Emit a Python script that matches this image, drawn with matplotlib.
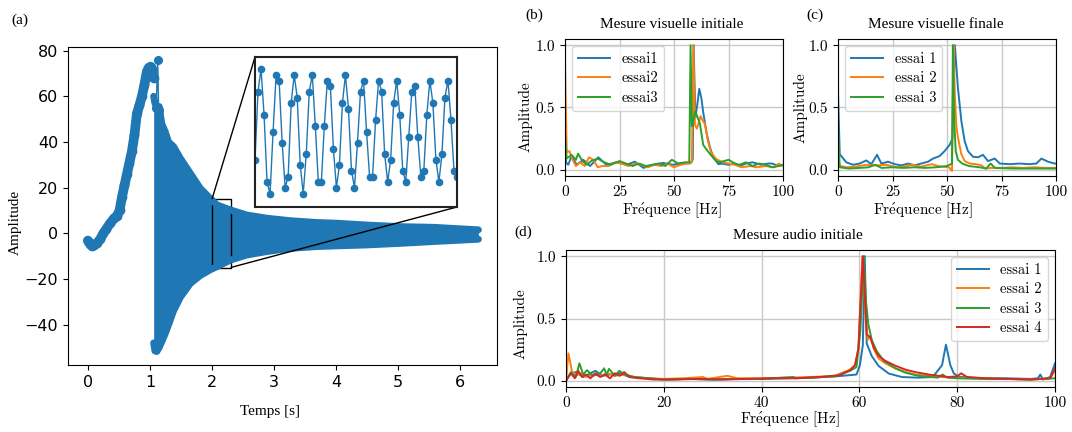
import numpy as np
import matplotlib
matplotlib.use("Agg")
import matplotlib.pyplot as plt
from mpl_toolkits.axes_grid1.inset_locator import mark_inset

plt.rcParams['mathtext.fontset'] = 'cm'

W, H = 1072, 432

# ---- (a) time signal ----
pre_t = [0, 0.03, 0.06, 0.1, 0.145, 0.2, 0.25, 0.3, 0.36, 0.42, 0.47, 0.51, 0.55,
         0.59, 0.63, 0.67, 0.71, 0.75, 0.79, 0.83, 0.87, 0.91, 0.95, 0.98, 1.01, 1.04, 1.06]
pre_v = [-3.2, -4.5, -5.5, -5.0, -4.4, -2.5, 0, 2, 4.4, 6.5, 7.6, 10, 16,
         21, 26, 31, 36, 43, 52.5, 56, 60, 65, 70.8, 72.5, 73, 71.5, 68]

env_t = [1.06, 1.08, 1.11, 1.15, 1.19, 1.245, 1.3, 1.38, 1.49, 1.65, 1.81, 1.97, 2.08,
         2.30, 2.56, 2.88, 3.26, 3.69, 4.01, 4.49, 5.03, 5.57, 6.29]
env_hi = [60, 57, 55, 55.5, 48, 44.5, 40, 38, 32.8, 26.3, 19.7, 15.3, 12.4,
          10.2, 8.0, 6.6, 5.5, 4.7, 4.4, 3.6, 2.9, 2.6, 1.5]
env_lo = [-48, -51.5, -51.8, -50, -47.5, -44, -40, -34, -28, -22, -18.5, -16, -14.6,
          -11.7, -9.5, -8.0, -6.6, -5.8, -5.5, -5.1, -4.4, -3.6, -2.6]

spike_t = [1.10, 1.125, 1.14]
spike_v = [55, 75.7, 54]

# zoomed window 2.0 - 2.3 s
zoom_v = [-5.5, 8.1, 12.6, 3.5, -10.0, -12.3, 0.1, 11.4, 10.3, -2.1, -11.1, -8.9, 5.8,
          11.4, 6.9, -6.6, -12.3, -4.4, 8.1, 11.4, 1.3, -10.0, -10.0, 1.3, 10.3, 9.2,
          -3.3, -11.1, -6.6, 5.8, 11.4, 4.7, -7.7, -11.1, -2.1, 8.1, 10.3, 0.1, -8.9,
          -8.9, 2.4, 10.3, 8.1, -4.4, -10.0, -5.5, 5.8, 10.3, 3.5, -7.7, -10.0, -1.0,
          8.1, 9.2, -1.0, -8.9, -7.7, 3.5, 10.3, 5.8, -5.5, -10.0, -4.4, 6.9, 10.3,
          2.4, -7.7, -8.9]
zoom_t = np.linspace(2.0, 2.3, len(zoom_v))

# ---- (b) Mesure visuelle initiale ----
fb1 = [0, 0.5, 1.5, 3, 5.4, 8.4, 11.5, 15.3, 19, 23.7, 28.3, 32, 36, 40.5, 45, 49.7, 54.3,
       57.3, 58.6, 59.0, 59.8, 60.5, 61.6, 62.5, 63.5, 65, 66.5, 68, 70.4, 72, 75, 78, 80,
       83, 86, 90, 93, 95, 98, 100]
ab1 = [0.2, 0.06, 0.04, 0.11, 0.04, 0.08, 0.03, 0.1, 0.04, 0.06, 0.04, 0.065, 0.015, 0.04,
       0.055, 0.04, 0.055, 0.05, 0.08, 1.0, 0.42, 0.5, 0.65, 0.58, 0.45, 0.29, 0.18, 0.1,
       0.045, 0.05, 0.04, 0.05, 0.03, 0.05, 0.06, 0.04, 0.05, 0.05, 0.03, 0.04]
fb2 = [0, 0.8, 2, 3.5, 5, 7, 9, 11, 13, 15, 17, 20, 23, 26, 29, 32, 35, 38, 41, 44, 47, 50,
       53, 56, 58.2, 58.9, 59.6, 60.5, 62.2, 63, 64.1, 65.6, 67, 69.4, 72.4, 75, 78, 81, 85,
       88, 92, 96, 98, 100]
ab2 = [0.86, 0.14, 0.15, 0.08, 0.03, 0.06, 0.03, 0.1, 0.08, 0.02, 0.03, 0.03, 0.06, 0.05,
       0.03, 0.05, 0.04, 0.02, 0.04, 0.03, 0.05, 0.02, 0.04, 0.05, 0.06, 1.0, 0.36, 0.33,
       0.43, 0.4, 0.37, 0.23, 0.14, 0.085, 0.06, 0.05, 0.04, 0.02, 0.03, 0.02, 0.03, 0.02,
       0.05, 0.03]
fb3 = [0, 0.8, 3, 5, 6, 8, 10, 12, 15, 18, 21, 25, 28, 31, 34, 37, 40, 43, 46, 49, 52, 55,
       57, 57.6, 58.2, 59.8, 61.9, 63.4, 65, 67.3, 69.4, 71, 73, 75, 78, 80, 83, 86, 89, 92,
       95, 98, 100]
ab3 = [0.3, 0.09, 0.12, 0.08, 0.13, 0.07, 0.04, 0.07, 0.09, 0.06, 0.04, 0.07, 0.05, 0.03,
       0.05, 0.03, 0.04, 0.05, 0.03, 0.08, 0.05, 0.06, 0.06, 1.0, 0.35, 0.47, 0.37, 0.2,
       0.16, 0.11, 0.07, 0.06, 0.07, 0.08, 0.05, 0.04, 0.06, 0.03, 0.05, 0.04, 0.02, 0.03,
       0.04]

# ---- (c) Mesure visuelle finale ----
fc1 = [0, 0.8, 3.8, 6.9, 9.9, 13, 15.3, 17.9, 19.9, 23, 26, 29.1, 32.1, 35.2, 38.2, 41.3,
       43.6, 46.6, 48.9, 51.2, 52.5, 53.0, 53.6, 55.0, 56.6, 58.1, 59.6, 61.9, 64.2, 66.5,
       68.8, 71.9, 74.2, 78.8, 83.3, 87.9, 91, 93.3, 96.3, 99.4, 100]
ac1 = [0.62, 0.125, 0.06, 0.04, 0.05, 0.075, 0.045, 0.12, 0.05, 0.065, 0.045, 0.035, 0.05,
       0.035, 0.05, 0.065, 0.09, 0.11, 0.15, 0.2, 0.25, 0.6, 1.0, 0.66, 0.39, 0.23, 0.15,
       0.105, 0.1, 0.12, 0.07, 0.09, 0.05, 0.045, 0.05, 0.045, 0.05, 0.09, 0.065, 0.05, 0.05]
fc2 = [0, 0.8, 4, 8, 13, 17, 22, 27, 30, 34, 38, 43, 46, 48, 51, 52.3, 53.0, 53.6, 54.3,
       55.0, 56.6, 58.1, 60.4, 63.5, 65.8, 67.7, 70, 75, 80, 85, 90, 95, 100]
ac2 = [0.1, 0.03, 0.02, 0.025, 0.04, 0.035, 0.04, 0.02, 0.025, 0.04, 0.025, 0.045, 0.03,
       0.025, 0.02, -0.01, 1.0, 0.6, 0.35, 0.26, 0.125, 0.07, 0.05, 0.045, 0.035, 0.01,
       0.015, 0.015, 0.02, 0.015, 0.02, 0.015, 0.015]
fc3 = [0, 0.8, 5, 10, 14, 17, 20, 25, 30, 35, 40, 45, 50, 52.3, 52.7, 53.3, 54.0, 55, 57,
       60, 65, 68, 70, 72, 80, 90, 100]
ac3 = [0.3, 0.02, 0.01, 0.015, 0.02, 0.04, 0.015, 0.02, 0.015, 0.02, 0.015, 0.02, 0.03,
       0.05, 1.0, 0.4, 0.15, 0.08, 0.05, 0.03, 0.02, 0.01, 0.05, 0.015, 0.01, 0.01, 0.01]

# ---- (d) Mesure audio initiale ----
fd1 = [0, 0.8, 2, 3.5, 5, 6, 7.5, 9, 11, 13, 15, 17, 20, 25, 30, 35, 40, 45, 50, 55, 58,
       59.4, 60.1, 60.7, 61.1, 61.5, 62.5, 63.9, 66, 68.7, 72, 75, 76.9, 77.7, 78.6, 79.3,
       80.3, 85, 90, 95, 96.5, 97, 97.5, 99, 100]
ad1 = [0.0, 0.05, 0.07, 0.03, 0.06, 0.08, 0.04, 0.05, 0.06, 0.03, 0.025, 0.02, 0.01, 0.015,
       0.01, 0.015, 0.015, 0.02, 0.025, 0.035, 0.045, 0.05, 0.125, 0.285, 1.0, 0.3, 0.2,
       0.12, 0.058, 0.03, 0.025, 0.03, 0.125, 0.29, 0.125, 0.06, 0.032, 0.02, 0.02, 0.015,
       0.02, 0.05, 0.01, 0.03, 0.14]
fd2 = [0, 0.5, 1.2, 2, 3, 4, 5.5, 7, 8.5, 10, 12, 14, 17, 20, 24, 28, 29, 33, 35, 40, 45,
       50, 55, 58.1, 59.1, 59.8, 60.1, 60.6, 61.3, 61.7, 62.3, 62.9, 63.9, 65.3, 67.4, 69.4,
       71.4, 74.2, 77, 80, 85, 90, 95, 99, 100]
ad2 = [0.0, 0.22, 0.08, 0.04, 0.06, 0.03, 0.05, 0.04, 0.06, 0.04, 0.05, 0.03, 0.02, 0.015,
       0.02, 0.03, 0.015, 0.04, 0.02, 0.02, 0.025, 0.03, 0.04, 0.09, 0.125, 0.26, 0.52, 1.0,
       0.5, 0.33, 0.36, 0.26, 0.18, 0.14, 0.098, 0.072, 0.05, 0.04, 0.03, 0.025, 0.02,
       0.015, 0.01, 0.02, 0.08]
fd3 = [0, 1, 2, 2.75, 3.5, 4.3, 5.5, 7, 7.8, 8.3, 8.8, 10, 10.9, 12, 14, 17, 20, 25, 30,
       35, 40, 46.5, 47, 50, 55, 58.1, 59.4, 60.2, 60.9, 61.3, 61.8, 62.5, 63.5, 65, 67.4,
       69.4, 72, 76, 77, 78, 80, 85, 90, 95, 100]
ad3 = [0.0, 0.07, 0.03, 0.14, 0.05, 0.085, 0.04, 0.06, 0.1, 0.05, 0.095, 0.04, 0.08, 0.05,
       0.03, 0.02, 0.01, 0.015, 0.01, 0.015, 0.015, 0.03, 0.02, 0.025, 0.035, 0.08, 0.11,
       0.4, 1.0, 0.66, 0.46, 0.33, 0.24, 0.16, 0.1, 0.065, 0.04, 0.025, 0.05, 0.025, 0.02,
       0.015, 0.015, 0.01, 0.02]
fd4 = [0, 1, 1.8, 2.5, 3.3, 4, 5, 6, 7, 8, 9, 10, 11, 11.9, 13, 15, 18, 22, 27, 32, 37, 42,
       47, 52, 56, 58.1, 59.1, 59.8, 60.1, 60.7, 61.5, 62.2, 62.9, 63.9, 65.3, 67.4, 69.4,
       71.4, 74.2, 76.2, 78, 80, 80.8, 82, 86, 90, 95, 99, 100]
ad4 = [0.0, 0.06, 0.02, 0.08, 0.03, 0.05, 0.02, 0.06, 0.03, 0.05, 0.02, 0.06, 0.04, 0.07,
       0.03, 0.02, 0.01, 0.01, 0.015, 0.01, 0.015, 0.02, 0.02, 0.03, 0.045, 0.085, 0.125,
       0.26, 0.52, 1.0, 0.37, 0.35, 0.27, 0.2, 0.16, 0.12, 0.09, 0.07, 0.05, 0.04, 0.03,
       0.035, 0.06, 0.03, 0.02, 0.015, 0.01, 0.02, 0.1]


def box(l, t, r, b):
    # pixel box -> figure fraction rect
    return [l / W, 1 - b / H, (r - l) / W, (b - t) / H]


def fx(x, y):
    return x / W, 1 - y / H


serif = 'Liberation Serif'
cm = 'cmr10'
blue = '#1f77b4'

fig = plt.figure(figsize=(W / 100, H / 100), dpi=100)

# ---------- (a) ----------
ax = fig.add_axes(box(68, 47, 497, 365))
ax.fill_between(env_t, env_lo, env_hi, color=blue, lw=0)
ax.plot(env_t, env_hi, color=blue, lw=5, solid_capstyle='round')
ax.plot(env_t, env_lo, color=blue, lw=5, solid_capstyle='round')
ax.plot(pre_t, pre_v, color=blue, lw=7, solid_capstyle='round')
ax.plot(pre_t, pre_v, 'o', color=blue, ms=6)
ax.plot(spike_t, spike_v, 'o-', color=blue, ms=5.5, lw=1)
ax.set_xlim(-0.32, 6.59)
ax.set_ylim(-57.7, 81.6)
ax.tick_params(labelsize=11.5)
ax.set_xticks(range(0, 7))
ax.set_yticks([-40, -20, 0, 20, 40, 60, 80])
fig.text(*fx(270, 411), 'Temps [s]', family=serif, size=11, ha='center', va='center')
fig.text(*fx(15, 222), 'Amplitude', family=serif, size=11, ha='center', va='center',
         rotation=90)
fig.text(*fx(20, 20), '(a)', family=serif, size=11, ha='center', va='center')

axi = fig.add_axes(box(255, 57, 457, 207))
axi.plot(zoom_t, zoom_v, 'o-', color=blue, ms=4.5, lw=1)
axi.set_xlim(2.0, 2.3)
axi.set_ylim(-15, 15)
axi.set_xticks([])
axi.set_yticks([])
for s in axi.spines.values():
    s.set_linewidth(1.5)
    s.set_color('#222222')
mark_inset(ax, axi, loc1=2, loc2=4, fc='none', ec='k', lw=1)


def spectrum(ax, traces, labels, title, tx, loc):
    for i, (f, a) in enumerate(traces):
        ax.plot(f, a, color='C%d' % i, lw=1.4, label=labels[i])
    ax.set_xlim(0, 100)
    ax.set_ylim(-0.05, 1.05)
    ax.set_yticks([0, 0.5, 1.0])
    ax.grid(True, color='#c8c8c8', lw=1)
    ax.set_axisbelow(True)
    ax.tick_params(labelsize=11, labelfontfamily=cm)
    ax.yaxis.set_major_formatter(matplotlib.ticker.FormatStrFormatter('%.1f'))
    ax.set_title(title, family=serif, size=11, x=tx, pad=8)
    ax.legend(loc=loc, prop={'family': cm, 'size': 10.5}, handlelength=2.2,
              labelspacing=0.4)
    return ax


# ---------- (b) ----------
axb = fig.add_axes(box(565, 39, 783, 176))
spectrum(axb, [(fb1, ab1), (fb2, ab2), (fb3, ab3)], ['essai1', 'essai2', 'essai3'],
         'Mesure visuelle initiale', 0.49, 'upper left')
axb.set_xticks([0, 25, 50, 75, 100])
fig.text(*fx(672, 210), r"$\mathrm{Fr\acute{e}quence\ [Hz]}$", size=11, ha='center',
         va='center')
fig.text(*fx(525, 117), 'Amplitude', family=cm, size=11, ha='center', va='center',
         rotation=90)
fig.text(*fx(534, 15), '(b)', family=serif, size=11, ha='center', va='center')

# ---------- (c) ----------
axc = fig.add_axes(box(838, 39, 1056, 176))
spectrum(axc, [(fc1, ac1), (fc2, ac2), (fc3, ac3)], ['essai 1', 'essai 2', 'essai 3'],
         'Mesure visuelle finale', 0.45, 'upper left')
axc.set_xticks([0, 25, 50, 75, 100])
fig.text(*fx(923, 210), r"$\mathrm{Fr\acute{e}quence\ [Hz]}$", size=11, ha='center',
         va='center')
fig.text(*fx(800, 108), 'Amplitude', family=cm, size=11, ha='center', va='center',
         rotation=90)
fig.text(*fx(815, 15), '(c)', family=serif, size=11, ha='center', va='center')

# ---------- (d) ----------
axd = fig.add_axes(box(566, 250, 1055, 387))
spectrum(axd, [(fd1, ad1), (fd2, ad2), (fd3, ad3), (fd4, ad4)],
         ['essai 1', 'essai 2', 'essai 3', 'essai 4'],
         'Mesure audio initiale', 0.475, 'upper right')
axd.set_xticks([0, 20, 40, 60, 80, 100])
fig.text(*fx(790, 419), r"$\mathrm{Fr\acute{e}quence\ [Hz]}$", size=11, ha='center',
         va='center')
fig.text(*fx(520, 324), 'Amplitude', family=cm, size=11, ha='center', va='center',
         rotation=90)
fig.text(*fx(523, 232), '(d)', family=serif, size=11, ha='center', va='center')

fig.savefig('out.png', dpi=100)
